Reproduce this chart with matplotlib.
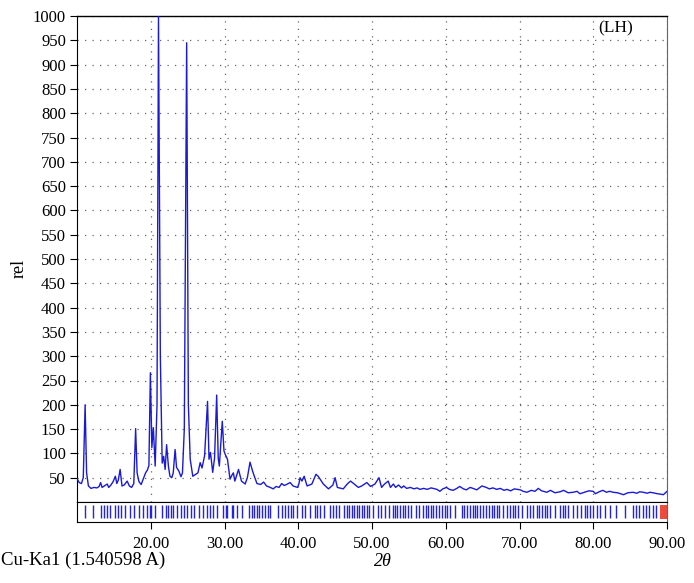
import matplotlib
matplotlib.use("Agg")
import matplotlib.pyplot as plt

plt.rcParams['font.family'] = ['Liberation Serif', 'DejaVu Serif']

two_theta = [10.0, 10.3, 10.6, 10.85, 11.1, 11.3, 11.55, 11.9, 12.3, 12.7, 13.0, 13.2, 13.4, 13.7,
             14.1, 14.3, 14.6, 14.9, 15.2, 15.4, 15.6, 15.85, 16.1, 16.4, 16.8, 17.1, 17.4, 17.7,
             17.95, 18.15, 18.4, 18.7, 19.0, 19.3, 19.55, 19.75, 19.95, 20.15, 20.35, 20.6, 20.85,
             21.05, 21.3, 21.55, 21.75, 21.95, 22.15, 22.4, 22.6, 22.85, 23.05, 23.3, 23.5, 23.8,
             24.1, 24.3, 24.55, 24.87, 25.1, 25.35, 25.7, 26.1, 26.4, 26.7, 26.95, 27.3, 27.7,
             27.9, 28.1, 28.4, 28.65, 28.94, 29.15, 29.3, 29.7, 29.93, 30.1, 30.4, 30.75, 31.0,
             31.2, 31.4, 31.9, 32.3, 32.8, 33.1, 33.46, 33.8, 34.0, 34.4, 34.9, 35.3, 35.7, 36.2,
             36.6, 37.0, 37.4, 37.75, 38.1, 38.4, 38.9, 39.3, 39.9, 40.1, 40.24, 40.5, 40.8, 41.2,
             41.85, 42.4, 42.7, 43.4, 44.1, 44.7, 45.0, 45.3, 46.1, 46.7, 47.1, 47.5, 48.15, 48.6,
             49.3, 49.8, 50.4, 50.95, 51.3, 51.7, 52.2, 52.5, 52.9, 53.2, 53.6, 54.0, 54.3, 54.7,
             55.2, 55.7, 56.1, 56.5, 57.0, 57.5, 58.0, 58.3, 58.8, 59.2, 59.6, 60.1, 60.5, 61.0,
             61.5, 61.9, 62.4, 62.8, 63.3, 63.7, 64.2, 64.9, 65.5, 65.9, 66.4, 66.9, 67.4, 67.9,
             68.3, 68.8, 69.3, 70.1, 70.5, 71.0, 71.6, 72.1, 72.55, 73.0, 73.7, 74.2, 74.8, 75.5,
             76.0, 76.6, 77.3, 77.8, 78.2, 78.8, 79.4, 80.0, 80.3, 80.8, 81.3, 81.8, 82.2, 82.7,
             83.3, 84.1, 84.7, 85.4, 85.9, 86.3, 86.8, 87.3, 87.7, 88.1, 88.7, 89.2, 89.5, 89.8, 90.0]
intensity = [48, 40, 38, 50, 200, 60, 33, 28, 30, 29, 32, 40, 30, 33,
             37, 30, 35, 42, 53, 38, 45, 67, 33, 35, 43, 33, 30, 38,
             151, 60, 42, 36, 48, 60, 66, 75, 266, 112, 153, 74, 200,
             1000, 300, 80, 94, 67, 118, 73, 53, 50, 60, 108, 71, 64,
             52, 60, 150, 945, 200, 88, 53, 57, 60, 81, 70, 95, 207,
             88, 102, 61, 90, 220, 90, 74, 166, 105, 98, 88, 47, 55,
             60, 43, 67, 43, 37, 50, 82, 64, 55, 38, 36, 41, 33, 30,
             27, 32, 30, 38, 34, 36, 40, 33, 30, 38, 50, 43, 53, 33,
             37, 57, 53, 37, 27, 35, 50, 30, 27, 38, 43, 38, 30, 33,
             40, 32, 37, 50, 30, 37, 43, 30, 37, 30, 35, 29, 33, 28,
             30, 27, 29, 26, 28, 26, 29, 28, 26, 22, 27, 30, 26, 24,
             28, 32, 27, 25, 30, 28, 25, 33, 30, 27, 29, 26, 28, 24,
             26, 23, 27, 25, 22, 20, 24, 22, 28, 23, 20, 24, 19, 21,
             24, 19, 20, 22, 17, 20, 23, 22, 17, 21, 24, 20, 22, 20,
             19, 15, 19, 20, 18, 21, 20, 18, 20, 19, 17, 16, 15, 19, 22]

reflections = [11.08, 12.2, 13.3, 13.66, 14.0, 14.47, 15.1, 15.56, 15.9, 16.46, 17.2, 17.7,
               18.36, 18.9, 19.45, 19.9, 20.08, 20.6, 21.5, 22.07, 22.34, 22.7, 22.97, 23.6,
               24.06, 24.5, 24.96, 25.4, 25.86, 26.6, 27.1, 27.67, 28.1, 28.5, 29.0, 29.8,
               30.16, 30.4, 31.0, 31.1, 31.65, 32.33, 33.37, 33.7, 34.0, 34.37, 34.7, 35.08,
               35.5, 35.94, 36.17, 37.3, 37.75, 38.2, 38.65, 38.97, 39.33, 39.79, 40.47, 40.9,
               41.6, 42.27, 42.59, 42.95, 43.5, 44.3, 44.76, 45.1, 45.57, 46.2, 46.56, 46.93,
               47.24, 47.56, 47.92, 48.28, 48.6, 48.91, 49.28, 49.64, 50.18, 50.86, 51.17, 51.76,
               52.35, 52.8, 53.12, 53.43, 53.8, 54.16, 54.47, 54.93, 55.24, 55.97, 56.42, 56.87,
               57.32, 57.64, 57.95, 58.32, 58.68, 59.04, 59.45, 59.9, 60.12, 60.58, 61.25, 62.16,
               62.47, 62.84, 63.29, 63.65, 63.97, 64.28, 64.64, 65.1, 65.46, 65.82, 66.22, 66.54,
               66.9, 67.26, 67.81, 68.26, 68.71, 69.07, 69.39, 69.84, 70.29, 70.97, 71.42, 71.87,
               72.33, 72.69, 73.0, 73.46, 73.77, 74.13, 74.81, 75.49, 75.85, 76.21, 76.62, 77.3,
               77.84, 78.29, 78.88, 79.2, 79.56, 79.92, 80.46, 80.91, 81.59, 82.27, 83.08, 84.3,
               85.34, 85.8, 86.25, 86.7, 87.15, 87.6, 88.06, 88.5]

x_ticks = [20, 30, 40, 50, 60, 70, 80, 90]
x_labels = ["20.00", "30.00", "40.00", "50.00", "60.00", "70.00", "80.00", "90.00"]
y_ticks = list(range(50, 1001, 50))

W, H = 694, 583
fig = plt.figure(figsize=(W / 100, H / 100), dpi=100)

def fx(px):
    return px / W

def fy(py):
    return 1 - py / H

ax = fig.add_axes([fx(77), fy(502), fx(667) - fx(77), fy(16) - fy(502)])
strip = fig.add_axes([fx(77), fy(522), fx(667) - fx(77), fy(502) - fy(522)], sharex=ax)

ax.plot(two_theta, intensity, color='#1a1ad6', lw=1.0, zorder=3)
ax.set_xlim(10, 90)
ax.set_ylim(0, 1000)
ax.set_yticks(y_ticks)
ax.set_yticklabels([str(v) for v in y_ticks], fontsize=12)
ax.tick_params(axis='y', direction='out', length=5, width=0.8, pad=3)
ax.tick_params(axis='x', bottom=False, labelbottom=False)
ax.set_xticks([20, 30, 40, 50, 60, 70, 80])
ax.grid(True, color='#666666', linestyle=(0, (1, 5)), linewidth=0.9)
ax.spines['right'].set_color('#666666')
ax.spines['top'].set_linewidth(1.0)
ax.set_ylabel('rel', fontsize=13)
ax.yaxis.set_label_coords(-0.083, 0.48)
ax.text((598 - 77) / 590, 1 - (28 - 16) / 486, '(LH)', transform=ax.transAxes,
        fontsize=12.5, ha='left', va='center')

strip.vlines(reflections, 0.18, 0.85, colors='#2323e0', lw=1.0)
strip.axvspan(89.0, 90.0, ymin=0.15, ymax=0.85, color='#f04a3c', lw=0)
strip.set_ylim(0, 1)
strip.set_yticks([])
strip.set_xticks(x_ticks)
strip.set_xticklabels(x_labels, fontsize=12)
strip.tick_params(axis='x', direction='out', length=5, width=0.8, pad=5)
strip.spines['right'].set_color('#666666')
strip.set_xlim(10, 90)

fig.text(fx(383), fy(561), '2θ', fontsize=13, ha='center', va='center', style='italic')
fig.text(fx(1), fy(560), 'Cu-Ka1 (1.540598 A)', fontsize=13.5, ha='left', va='center')

fig.savefig('out.png', dpi=100)
